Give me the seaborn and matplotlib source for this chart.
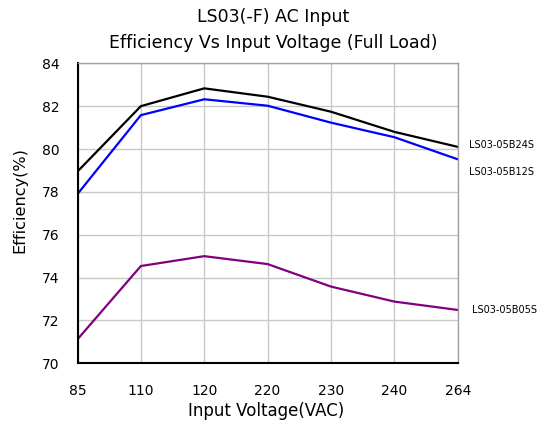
import pandas as pd
import matplotlib
matplotlib.use("Agg")
import matplotlib.pyplot as plt
import seaborn as sns

voltages = ["85", "110", "120", "220", "230", "240", "264"]
eff_24s = [78.95, 82.0, 82.83, 82.44, 81.74, 80.8, 80.1]
eff_12s = [77.9, 81.58, 82.32, 82.02, 81.23, 80.55, 79.52]
eff_05s = [71.12, 74.54, 75.0, 74.63, 73.58, 72.88, 72.49]
models = ["LS03-05B24S", "LS03-05B12S", "LS03-05B05S"]
colors = ["#000000", "#0000FF", "#800080"]

rows = []
for name, vals in zip(models, [eff_24s, eff_12s, eff_05s]):
    for i, v in enumerate(vals):
        rows.append({"pos": i, "eff": v, "model": name})
df = pd.DataFrame(rows)

sns.set_style("white")
plt.rcParams['font.family'] = ['DejaVu Sans']
plt.rcParams['text.color'] = 'black'
plt.rcParams['axes.labelcolor'] = 'black'
plt.rcParams['xtick.color'] = 'black'
plt.rcParams['ytick.color'] = 'black'

fig = plt.figure(figsize=(5.47, 4.23), dpi=100)
ax = fig.add_axes([0.1417, 0.1411, 0.6951, 0.7093])

sns.lineplot(data=df, x="pos", y="eff", hue="model", palette=dict(zip(models, colors)),
             linewidth=1.6, legend=False, ax=ax)

ax.set_xlim(0, 6)
ax.set_ylim(70, 84)
ax.set_xticks(range(len(voltages)))
ax.set_xticklabels(voltages, fontsize=10)
ax.set_yticks(range(70, 85, 2))
ax.set_yticklabels([str(t) for t in range(70, 85, 2)], fontsize=10)
ax.grid(True, color="#c8c8c8", linewidth=1)
ax.set_axisbelow(True)
ax.tick_params(axis="both", direction="in", length=4, width=1.2, color="black")
ax.tick_params(axis="x", pad=15)
ax.tick_params(axis="y", pad=13)

for side in ["left", "bottom"]:
    ax.spines[side].set_color("black")
    ax.spines[side].set_linewidth(1.5)
for side in ["right", "top"]:
    ax.spines[side].set_color("#a0a0a0")
    ax.spines[side].set_linewidth(1)

ax.set_xlabel("Input Voltage(VAC)", fontsize=12)
ax.set_ylabel("Efficiency(%)", fontsize=11.6)
ax.xaxis.set_label_coords(0.496, -0.129)
ax.yaxis.set_label_coords(-0.133, 0.544)

fig.text(0.5, 0.96, "LS03(-F) AC Input", ha="center", va="center", fontsize=12.5)
fig.text(0.5, 0.898, "Efficiency Vs Input Voltage (Full Load)", ha="center", va="center", fontsize=12.5)

label_x = [469, 469, 472]
for name, yv, xp in zip(models, [eff_24s[-1] + 0.1, 78.95, eff_05s[-1]], label_x):
    ax.annotate(name, xy=(6, yv), xycoords="data", xytext=(xp - 457.7, 0),
                textcoords="offset pixels", ha="left", va="center", fontsize=7,
                annotation_clip=False)

fig.savefig("out.png", dpi=100)
